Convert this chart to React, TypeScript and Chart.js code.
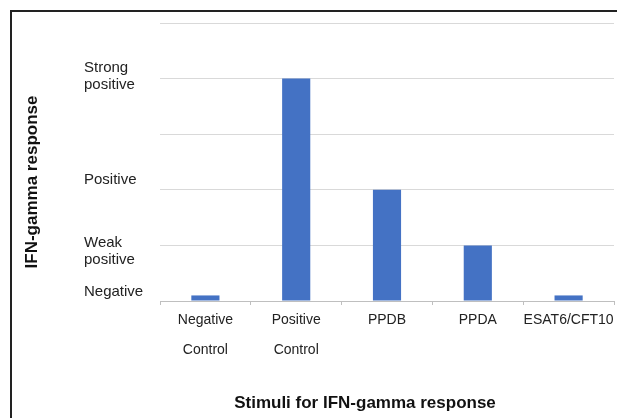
import React, { useEffect, useRef } from "react";
import { Chart, registerables } from "chart.js";

Chart.register(...registerables);

const categories: (string | string[])[] = [
  ["Negative", "Control"],
  ["Positive", "Control"],
  "PPDB",
  "PPDA",
  "ESAT6/CFT10",
];
const responseValues = [0.1, 4, 2, 1, 0.1];
const yLabelText: (string | string[])[] = [
  ["Strong", "positive"],
  "Positive",
  ["Weak", "positive"],
  "Negative",
];
const yLabelPositions = [4.04, 2.18, 0.89, 0.17];
const xTitle = "Stimuli for IFN-gamma response";
const yTitle = "IFN-gamma response";

const FONT = "'Liberation Sans', Arial, sans-serif";

const titlePlugin = {
  id: "titles",
  afterDraw(chart: any) {
    const ctx = chart.ctx;
    ctx.save();
    ctx.fillStyle = "#111";
    ctx.font = `bold 17px ${FONT}`;
    ctx.textAlign = "center";
    ctx.textBaseline = "middle";
    ctx.fillText(xTitle, 365, 403);
    ctx.translate(32, 182);
    ctx.rotate(-Math.PI / 2);
    ctx.fillText(yTitle, 0, 0);
    ctx.restore();
  },
};

export default function App() {
  const ref = useRef<HTMLCanvasElement | null>(null);
  useEffect(() => {
    if (!ref.current) return;
    const chart = new Chart(ref.current, {
      type: "bar",
      data: {
        labels: categories,
        datasets: [
          {
            data: responseValues,
            backgroundColor: "#4472C4",
            borderWidth: 0,
            categoryPercentage: 1,
            barPercentage: 0.31,
            yAxisID: "y",
          },
        ],
      },
      options: {
        animation: false,
        responsive: true,
        maintainAspectRatio: false,
        layout: { padding: { left: 84, top: 23, right: 3, bottom: 0 } },
        plugins: { legend: { display: false }, tooltip: { enabled: false } },
        scales: {
          x: {
            offset: true,
            grid: {
              drawOnChartArea: false,
              drawTicks: true,
              tickLength: 4,
              color: "#bfbfbf",
            },
            border: { color: "#bfbfbf" },
            ticks: {
              autoSkip: false,
              maxRotation: 0,
              padding: 0,
              color: "#222",
              font: { family: FONT, size: 14, lineHeight: 2.14 },
            },
            afterFit: (s: any) => {
              s.height = 117;
            },
          },
          y: {
            position: "left",
            min: 0,
            max: 5,
            ticks: { display: false, stepSize: 1 },
            grid: { color: "#d9d9d9", drawTicks: false, lineWidth: 1 },
            border: { display: false },
            afterFit: (s: any) => {
              s.width = 0;
            },
          },
          yl: {
            position: "left",
            min: 0,
            max: 5,
            grid: { display: false, drawTicks: false },
            border: { display: false },
            afterBuildTicks: (s: any) => {
              s.ticks = yLabelPositions.map((v) => ({ value: v }));
            },
            ticks: {
              crossAlign: "far",
              color: "#222",
              font: { family: FONT, size: 15, lineHeight: 1.15 },
              callback: (_v: any, i: number) => yLabelText[i],
            },
            afterFit: (s: any) => {
              s.width = 76;
            },
          },
        },
      },
      plugins: [titlePlugin],
    });
    return () => chart.destroy();
  }, []);

  return (
    <div
      style={{
        position: "fixed",
        left: 0,
        top: 0,
        width: 617,
        height: 418,
        overflow: "hidden",
        background: "#fff",
      }}
    >
      <div
        style={{
          position: "absolute",
          left: 10,
          top: 10,
          right: -20,
          bottom: -20,
          borderLeft: "2px solid #222",
          borderTop: "2px solid #222",
        }}
      />
      <div style={{ position: "absolute", left: 0, top: 0, width: 617, height: 418 }}>
        <canvas ref={ref} />
      </div>
    </div>
  );
}
